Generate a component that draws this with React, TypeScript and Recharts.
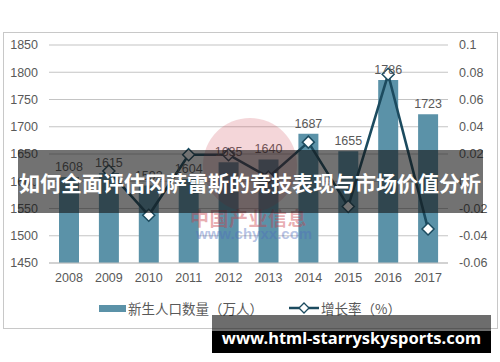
import { ComposedChart, Bar, Line, XAxis, YAxis, CartesianGrid, LabelList } from 'recharts';

const years = ['2008', '2009', '2010', '2011', '2012', '2013', '2014', '2015', '2016', '2017'];
const births = [1608, 1615, 1592, 1604, 1635, 1640, 1687, 1655, 1786, 1723];
const growth = [null, 0.0075, -0.025, 0.0195, 0.0195, 0.003, 0.0287, -0.0185, 0.0785, -0.035];
const leftTicks = [1450, 1500, 1550, 1600, 1650, 1700, 1750, 1800, 1850];
const rightTicks = [-0.06, -0.04, -0.02, 0, 0.02, 0.04, 0.06, 0.08, 0.1];

const barName = '新生人口数量（万人）';
const lineName = '增长率（%）';
const title = '如何全面评估冈萨雷斯的竞技表现与市场价值分析';
const site = 'www.html-starryskysports.com';

const BAR_COLOR = '#5b92a8';
const LINE_COLOR = '#1c4b5f';
const TEXT = '#595959';
const GRID = '#c4c4c4';
const FONT = '"Liberation Sans", Arial, sans-serif';
const CJK = '"Noto Sans CJK SC", sans-serif';

const data = years.map((y, i) => ({ year: y, births: births[i], growth: growth[i] }));

// diamond marker for the growth line
const Diamond = (props: any) => {
  const { cx, cy, index } = props;
  if (cx == null || cy == null) return <g key={index} />;
  const r = 6;
  return (
    <path
      key={index}
      d={`M${cx},${cy - r} L${cx + r},${cy} L${cx},${cy + r} L${cx - r},${cy} Z`}
      fill="#ffffff"
      stroke={LINE_COLOR}
      strokeWidth={1.5}
    />
  );
};

const fmtRight = (v: number) => String(Number(v.toFixed(2)));

export default function App() {
  return (
    <div style={{ position: 'absolute', left: 0, top: 0, width: 500, height: 362, background: '#fff', overflow: 'hidden' }}>
      {/* chart frame */}
      <div style={{ position: 'absolute', left: 3, top: 32, width: 493, height: 295, border: '1px solid #c8c8c8' }} />

      <div style={{ position: 'absolute', left: 0, top: 0 }}>
        <ComposedChart width={500} height={362} data={data} margin={{ top: 45, right: 0, bottom: 69, left: 0 }}>
          <CartesianGrid yAxisId="left" vertical={false} stroke={GRID} strokeWidth={1.2} />
          <XAxis
            dataKey="year"
            tickLine={false}
            axisLine={{ stroke: GRID, strokeWidth: 1.2 }}
            tick={{ fill: TEXT, fontSize: 12.5, fontFamily: FONT }}
            tickMargin={4}
            height={30}
          />
          <YAxis
            yAxisId="left"
            width={49}
            domain={[1450, 1850]}
            ticks={leftTicks}
            allowDataOverflow
            tickLine={false}
            axisLine={false}
            tickMargin={5}
            tick={{ fill: TEXT, fontSize: 12.5, fontFamily: FONT }}
          />
          <YAxis
            yAxisId="right"
            orientation="right"
            width={52}
            domain={[-0.06, 0.1]}
            ticks={rightTicks}
            tickFormatter={fmtRight}
            tickLine={false}
            axisLine={false}
            tickMargin={5}
            tick={{ fill: TEXT, fontSize: 12.5, fontFamily: FONT }}
          />
          <Bar yAxisId="left" dataKey="births" name={barName} fill={BAR_COLOR} barSize={20} isAnimationActive={false}>
            <LabelList dataKey="births" position="top" offset={6} fill={TEXT} fontSize={12.5} fontFamily={FONT} />
          </Bar>
          <Line
            yAxisId="right"
            type="linear"
            dataKey="growth"
            name={lineName}
            stroke={LINE_COLOR}
            strokeWidth={2.6}
            dot={<Diamond />}
            activeDot={false}
            isAnimationActive={false}
          />
        </ComposedChart>
      </div>

      {/* legend */}
      <div style={{ position: 'absolute', left: 0, top: 299, width: 500, height: 18, display: 'flex', justifyContent: 'center', alignItems: 'center', fontFamily: CJK, fontSize: 13.5, color: TEXT, whiteSpace: 'nowrap' }}>
        <span style={{ display: 'inline-block', width: 27, height: 7, background: BAR_COLOR, marginRight: 2 }} />
        <span>{barName}</span>
        <svg width={30} height={12} style={{ marginLeft: 26, marginRight: 2 }}>
          <line x1={0} y1={6} x2={30} y2={6} stroke={LINE_COLOR} strokeWidth={2.5} />
          <path d="M15,1 L20,6 L15,11 L10,6 Z" fill="#fff" stroke={LINE_COLOR} strokeWidth={1.3} />
        </svg>
        <span>{lineName}</span>
      </div>

      {/* faint source watermark */}
      <div style={{ position: 'absolute', left: 203, top: 118, width: 94, height: 94, borderRadius: '50%', background: 'rgba(205,70,80,0.22)' }} />
      <div style={{ position: 'absolute', left: 190, top: 204, fontFamily: CJK, fontWeight: 700, fontSize: 19, color: 'rgba(200,60,70,0.42)', letterSpacing: 0.5 }}>中国产业信息</div>
      <div style={{ position: 'absolute', left: 196, top: 225, fontFamily: FONT, fontWeight: 700, fontSize: 15, color: 'rgba(80,110,190,0.42)' }}>www.chyxx.com</div>

      {/* title banner */}
      <div style={{ position: 'absolute', left: 18, top: 150, width: 465, height: 63, background: 'rgba(20,20,20,0.6)' }} />
      <div style={{ position: 'absolute', left: 0, top: 150, width: 500, height: 63, display: 'flex', alignItems: 'center', justifyContent: 'center', fontFamily: CJK, fontWeight: 700, fontSize: 21, color: '#fff', whiteSpace: 'nowrap' }}>
        {title}
      </div>

      {/* site banner */}
      <div style={{ position: 'absolute', left: 212, top: 315, width: 279, height: 16, background: 'rgba(20,20,20,0.62)' }} />
      <div style={{ position: 'absolute', left: 212, top: 331, width: 279, height: 22, background: '#000' }} />
      <div style={{ position: 'absolute', left: 212, top: 323, width: 279, height: 28, display: 'flex', alignItems: 'center', justifyContent: 'center', fontFamily: '"Noto Sans", sans-serif', fontWeight: 700, fontSize: 16.5, color: '#fff', whiteSpace: 'nowrap' }}>
        {site}
      </div>
    </div>
  );
}
